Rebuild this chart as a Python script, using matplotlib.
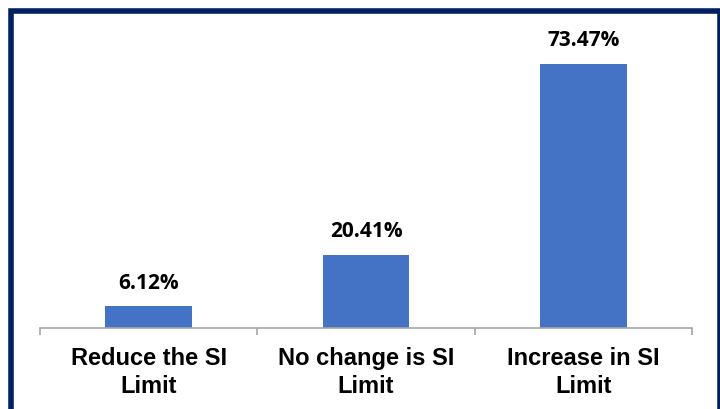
import matplotlib.pyplot as plt
from matplotlib.patches import Rectangle

categories = ["Reduce the SI\nLimit", "No change is SI\nLimit", "Increase in SI\nLimit"]
shares = [6.12, 20.41, 73.47]
value_labels = ["6.12%", "20.41%", "73.47%"]

W, H = 720, 410
fig = plt.figure(figsize=(W / 100, H / 100), dpi=100)
fig.patch.set_facecolor("white")

# plot area: axis line at y=329 px, 3.6 px per percent
ax = fig.add_axes([40 / W, (H - 329) / H, 652 / W, 288 / H])
x = range(len(shares))
ax.bar(x, shares, width=0.4, color="#4472C4", zorder=2)
ax.set_xlim(-0.5, 2.5)
ax.set_ylim(0, 80)

for xi, v, lab in zip(x, shares, value_labels):
    ax.annotate(lab, (xi, v), xytext=(0, 9.5), textcoords="offset points",
                ha="center", va="bottom", fontsize=15, fontweight="bold",
                family="Open Sans", color="#000000")

for s in ["left", "right", "top"]:
    ax.spines[s].set_visible(False)
ax.spines["bottom"].set_color("#A6A6A6")
ax.spines["bottom"].set_linewidth(1.2)
ax.set_yticks([])
ax.set_xticks([-0.5, 0.5, 1.5, 2.5], minor=False)
ax.set_xticklabels([])
ax.tick_params(axis="x", which="major", length=5, color="#A6A6A6", width=1.2)
ax.set_xticks(list(x), minor=True)
ax.set_xticklabels(categories, minor=True, fontsize=17, fontweight="bold",
                   family="Liberation Sans", linespacing=1.25)
ax.tick_params(axis="x", which="minor", length=0, pad=13)

# navy frame around the chart area
fig.patches.append(Rectangle((10.5 / W, -0.05), (720 - 10.5) / W, (H - 11.5) / H + 0.05,
                             transform=fig.transFigure, fill=False,
                             edgecolor="#002060", linewidth=4))

fig.savefig("out.png", dpi=100)
